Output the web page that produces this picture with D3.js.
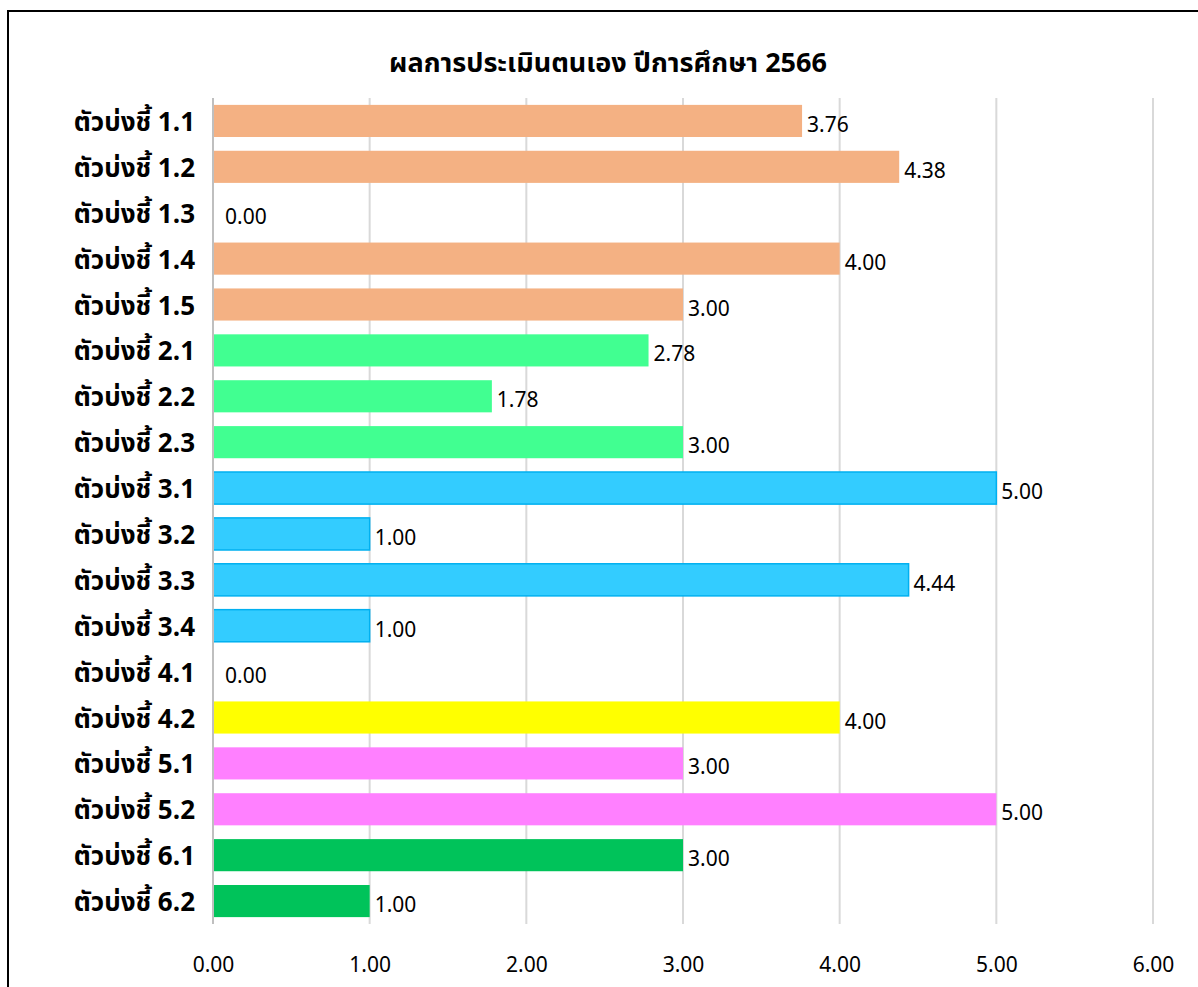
<!DOCTYPE html>
<html><head><meta charset="utf-8">
<script src="https://cdn.jsdelivr.net/npm/d3@7"></script>
<style>
body{margin:0;background:#fff;}
svg{display:block;}
text{font-family:"Noto Sans Thai","Leelawadee UI",Tahoma,"Noto Sans","DejaVu Sans",sans-serif;}
</style></head>
<body>
<script>
const categories = ["ตัวบ่งชี้ 1.1","ตัวบ่งชี้ 1.2","ตัวบ่งชี้ 1.3","ตัวบ่งชี้ 1.4","ตัวบ่งชี้ 1.5","ตัวบ่งชี้ 2.1","ตัวบ่งชี้ 2.2","ตัวบ่งชี้ 2.3","ตัวบ่งชี้ 3.1","ตัวบ่งชี้ 3.2","ตัวบ่งชี้ 3.3","ตัวบ่งชี้ 3.4","ตัวบ่งชี้ 4.1","ตัวบ่งชี้ 4.2","ตัวบ่งชี้ 5.1","ตัวบ่งชี้ 5.2","ตัวบ่งชี้ 6.1","ตัวบ่งชี้ 6.2"];
const values = [3.76,4.38,0.00,4.00,3.00,2.78,1.78,3.00,5.00,1.00,4.44,1.00,0.00,4.00,3.00,5.00,3.00,1.00];
const groups = [1,1,1,1,1,2,2,2,3,3,3,3,4,4,5,5,6,6];
const groupFill = {1:"#F4B183",2:"#41FF91",3:"#33CCFF",4:"#FFFF00",5:"#FF80FF",6:"#00C35A"};
const groupStroke = {1:"none",2:"none",3:"#00B0F0",4:"none",5:"none",6:"none"};
const xTicks = [0,1,2,3,4,5,6];
const title = "ผลการประเมินตนเอง ปีการศึกษา 2566";

const W=1198,H=987;
const FONT='"Noto Sans Thai","Leelawadee UI",Tahoma,"Noto Sans","DejaVu Sans",sans-serif';
const svg=d3.select("body").append("svg").attr("width",W).attr("height",H);
svg.append("rect").attr("x",8).attr("y",11).attr("width",W+20).attr("height",H+20)
  .attr("fill","#fff").attr("stroke","#000").attr("stroke-width",2);

const x=d3.scaleLinear().domain([0,6]).range([213,1153]);
const y=d3.scaleBand().domain(categories).range([98,924]).paddingInner(0.3).paddingOuter(0.15);

svg.append("text").attr("x",608).attr("y",72).attr("text-anchor","middle")
  .attr("font-size",27).attr("font-weight","bold").text(title);

// gridlines
svg.append("g").selectAll("line").data(xTicks.slice(1)).join("line")
  .attr("x1",d=>x(d)).attr("x2",d=>x(d)).attr("y1",98).attr("y2",924)
  .attr("stroke","#d9d9d9").attr("stroke-width",2);

// bars
svg.append("g").selectAll("rect").data(values).join("rect")
  .attr("x",x(0)).attr("y",(d,i)=>y(categories[i]))
  .attr("width",d=>Math.max(0,x(d)-x(0))).attr("height",y.bandwidth())
  .attr("fill",(d,i)=>groupFill[groups[i]])
  .attr("stroke",(d,i)=>d>0?groupStroke[groups[i]]:"none").attr("stroke-width",1.5);

// axis line at 0
svg.append("line").attr("x1",x(0)).attr("x2",x(0)).attr("y1",98).attr("y2",924)
  .attr("stroke","#bfbfbf").attr("stroke-width",2);

// value labels
svg.append("g").selectAll("text").data(values).join("text")
  .attr("x",d=>x(d)+(d>0?5:12)).attr("y",(d,i)=>y(categories[i])+y.bandwidth()/2+11)
  .attr("font-size",21).attr("fill","#000").text(d=>d.toFixed(2));

// category labels
svg.append("g").selectAll("text").data(categories).join("text")
  .attr("x",195).attr("y",d=>y(d)+y.bandwidth()/2+10)
  .attr("text-anchor","end").attr("font-size",26).attr("font-weight","bold").text(d=>d);

// x tick labels
const xAxis=d3.axisBottom(x).tickValues(xTicks).tickFormat(d3.format(".2f")).tickSize(0).tickPadding(0);
const gx=svg.append("g").attr("transform","translate(0,957)").call(xAxis);
gx.select(".domain").remove();
gx.selectAll("text").attr("font-size",21).attr("fill","#000").attr("dy","0.71em")
  .style("font-family",FONT);
</script>
</body></html>
